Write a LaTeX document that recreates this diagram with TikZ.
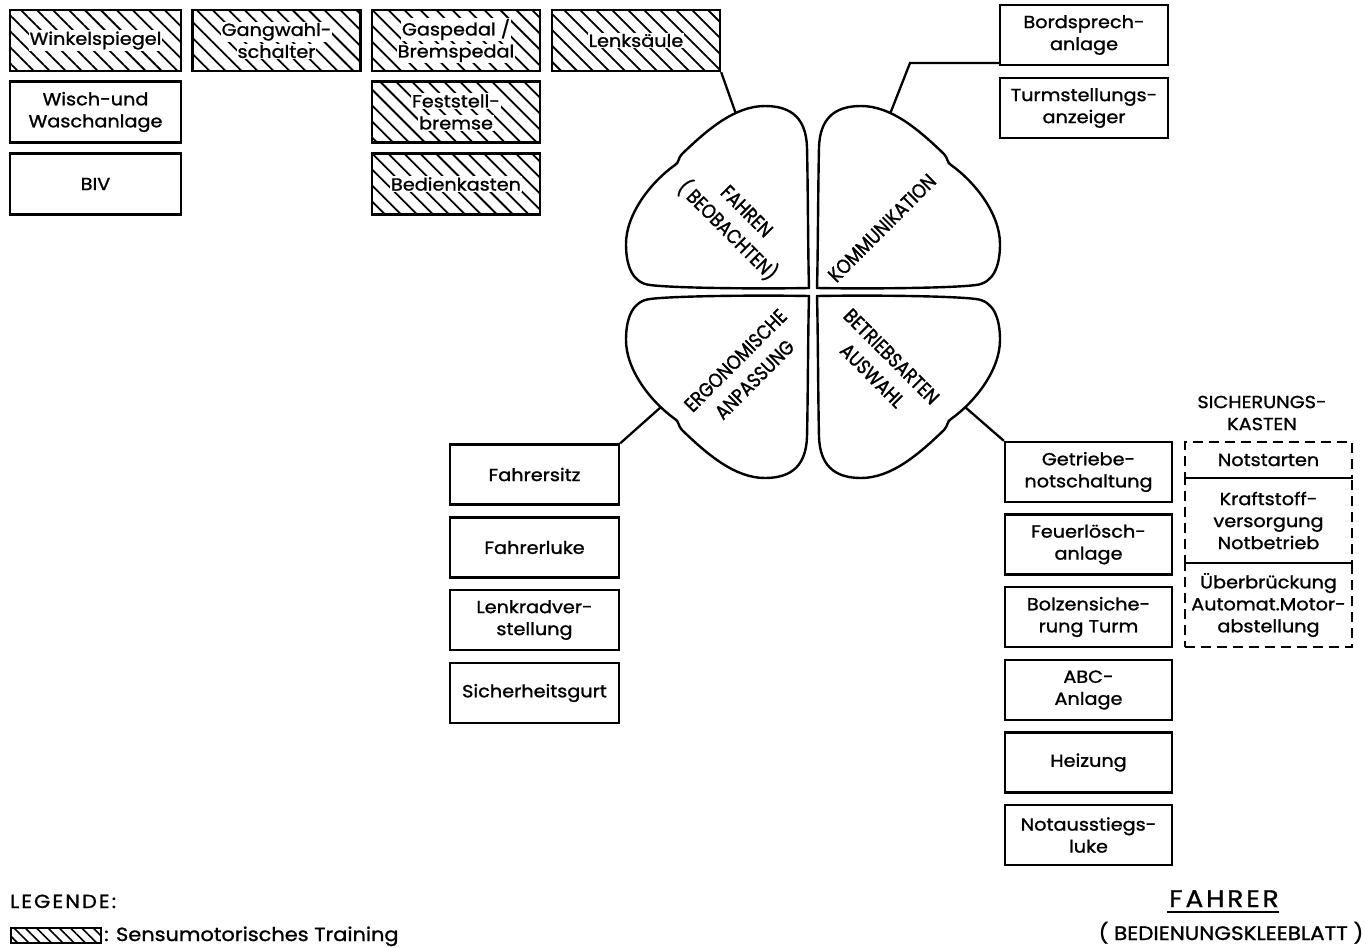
\documentclass[tikz,border=0pt]{standalone}
\usepackage{fontspec}
\setmainfont{Poppins}[FakeStretch=1.1, FakeBold=1.2]
\newfontfamily\capfont{Poppins}[FakeStretch=0.86, FakeBold=1.4]
\usetikzlibrary{patterns.meta}
\setlength{\fboxsep}{1pt}
\newcommand\wb[1]{\colorbox{white}{#1}}
\tikzset{
  boxtxt/.style={font=\fontsize{17.5}{22}\selectfont},
  box/.style={draw, line width=2.3pt, minimum width=168pt, minimum height=60pt, inner sep=0pt, align=center, boxtxt},
  hbox/.style={box, pattern={Lines[angle=-45,distance=11.3pt,line width=1.8pt]}},
  dbox/.style={draw, dash pattern=on 10pt off 6pt, line width=2pt, minimum width=167pt, inner sep=0pt, align=center, boxtxt},
  leaf/.style={line width=2.4pt, line join=round},
  conn/.style={line width=2.3pt},
  leaftxt/.style={font=\capfont\fontsize{20}{27}\selectfont, align=center, inner sep=0pt},
}
\begin{document}
\begin{tikzpicture}[x=1pt, y=-1pt]
\useasboundingbox (0,0) rectangle (1366,948);
\fill[white] (0,0) rectangle (1366,948);

% top-left block
\node[hbox, minimum width=171pt, minimum height=61pt] (winkel) at (95.5,40.5) {\wb{Winkelspiegel}};
\node[hbox, minimum height=61pt] (gang) at (276.5,40.5) {\wb{Gangwahl-}\\\wb{schalter}};
\node[hbox, minimum height=61pt] (gas) at (456,40.5) {\wb{Gaspedal /}\\\wb{Bremspedal}};
\node[hbox, minimum height=61pt] (lenk) at (636,40.5) {\wb{Lenksäule}};
\node[box, minimum width=171pt, minimum height=61pt] (wisch) at (95.5,112) {Wisch-und\\Waschanlage};
\node[hbox, minimum height=61pt] (fest) at (456,112) {\wb{Feststell-}\\\wb{bremse}};
\node[box, minimum width=171pt, minimum height=61pt] (biv) at (95.5,184) {BIV};
\node[hbox, minimum height=61pt] (bedien) at (456,184) {\wb{Bedienkasten}};

% top-right block
\node[box] (bord) at (1084,35) {Bordsprech-\\anlage};
\node[box] (turm) at (1084,108) {Turmstellungs-\\anzeiger};

% left column
\node[box, minimum width=169pt] (sitz) at (534.5,474.5) {Fahrersitz};
\node[box, minimum width=169pt] (luke) at (534.5,547.5) {Fahrerluke};
\node[box, minimum width=169pt] (lenkrad) at (534.5,620) {Lenkradver-\\stellung};
\node[box, minimum width=169pt] (gurt) at (534.5,693) {Sicherheitsgurt};

% right column
\node[box, minimum width=167pt] (getr) at (1088.5,472) {Getriebe-\\notschaltung};
\node[box, minimum width=167pt] (feuer) at (1088.5,544.5) {Feuerlösch-\\anlage};
\node[box, minimum width=167pt] (bolzen) at (1088.5,617) {Bolzensiche-\\rung Turm};
\node[box, minimum width=167pt] (abc) at (1088.5,690) {ABC-\\Anlage};
\node[box, minimum width=167pt] (heiz) at (1088.5,762.5) {Heizung};
\node[box, minimum width=167pt] (notaus) at (1088.5,835) {Notausstiegs-\\luke};

% Sicherungskasten
\node[font=\fontsize{17.5}{22}\selectfont, align=center] (sktitle) at (1262,413) {SICHERUNGS-\\KASTEN};
\node[dbox, minimum height=36pt] (notst) at (1268.5,460) {Notstarten};
\node[dbox, minimum height=85pt] (kraft) at (1268.5,520.5) {Kraftstoff-\\versorgung\\Notbetrieb};
\node[dbox, minimum height=84pt] (ueber) at (1268.5,605) {Überbrückung\\Automat.Motor-\\abstellung};

% clover
\begin{scope}[shift={(813,292)}]
  \foreach \sx/\sy in {1/1,-1/1,1/-1,-1/-1}{
    \begin{scope}[xscale=\sx, yscale=\sy]
      \draw[leaf] (-4,-4)
        .. controls (-60,-3) and (-140,-4) .. (-163,-7)
        .. controls (-180,-9) and (-187,-25) .. (-187,-48)
        .. controls (-187,-78) and (-162,-110) .. (-138,-127)
        .. controls (-134,-129) and (-135,-134) .. (-131,-138)
        .. controls (-105,-163) and (-78,-186) .. (-48,-186)
        .. controls (-20,-186) and (-7,-172) .. (-6,-145)
        .. controls (-5,-100) and (-5,-40) .. (-4,-4) -- cycle;
    \end{scope}
  }
\end{scope}
\node[leaftxt, rotate=-45] (lfahren) at (736,222) {FAHREN\\( BEOBACHTEN)};
\node[leaftxt, rotate=45] (lkomm) at (882,228) {KOMMUNIKATION};
\node[leaftxt, rotate=45] (lergo) at (745,370) {ERGONOMISCHE\\ANPASSUNG};
\node[leaftxt, rotate=-45] (lbetr) at (882,366) {BETRIEBSARTEN\\AUSWAHL};

% connectors
\coordinate (pTL) at (736,114);
\coordinate (pTR) at (890,114);
\coordinate (pBL) at (661,407);
\coordinate (pBR) at (965,407);
\coordinate (kTR) at (910,63);
\draw[conn] (lenk.south east) -- (pTL);
\draw[conn] (pTR) -- (kTR) -- (kTR -| bord.west);
\draw[conn] (pBL) -- (sitz.north east);
\draw[conn] (pBR) -- (getr.north west);

% legend
\node[anchor=base west, font=\fontsize{19}{24}\selectfont\addfontfeatures{LetterSpace=11}, inner sep=0pt] (legende) at (10,908) {LEGENDE:};
\node[draw, line width=1.8pt, minimum width=90pt, minimum height=15pt, inner sep=0pt, anchor=north west, pattern={Lines[angle=-45,distance=8pt,line width=1.6pt]}] (legbox) at (10,927) {};
\node[anchor=base west, font=\fontsize{19}{24}\selectfont, inner sep=0pt] (legtxt) at (104,941) {: Sensumotorisches Training};

% title
\node[anchor=base, font=\fontsize{24}{28}\selectfont\addfontfeatures{LetterSpace=12}, inner sep=0pt] (fahrer) at (1224,907) {FAHRER};
\draw[line width=2pt] (1167,912) -- (1279,912);
\node[anchor=base, font=\fontsize{19.5}{24}\selectfont, inner sep=0pt] (kleeblatt) at (1231,940) {( BEDIENUNGSKLEEBLATT )};
\end{tikzpicture}
\end{document}
